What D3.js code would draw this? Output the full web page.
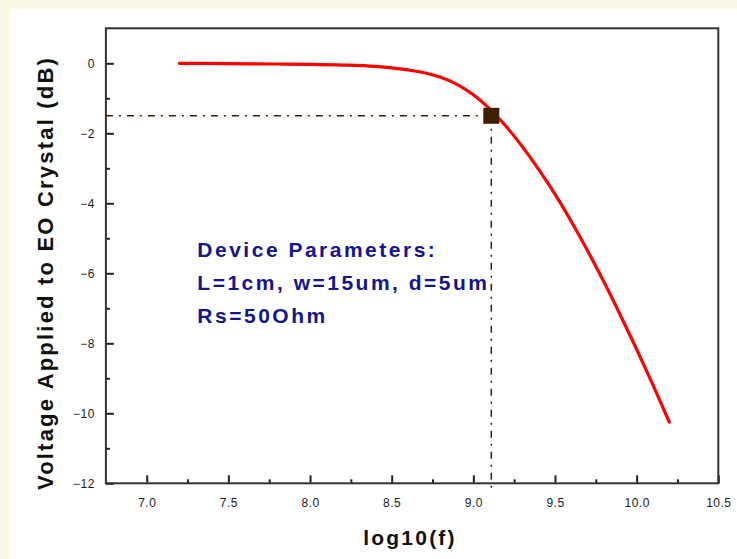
<!DOCTYPE html>
<html lang="en">
<head>
    <meta charset="UTF-8">
    <title>Voltage vs log10(f)</title>
    <style>
        body { margin: 0; background: #fafae6; }
        svg { display: block; }
        .tick text { font-family: Arial, "Liberation Sans", sans-serif; font-size: 12px; fill: #1a1a1a; letter-spacing: 0.5px; }
    </style>
</head>
<body>
    <div class="vis"><svg width="737" height="559"></svg></div>
    <script src="https://cdnjs.cloudflare.com/ajax/libs/d3/7.8.5/d3.min.js"></script>
    <script>
        // response curve
        var logF = [7.2, 7.5, 7.8, 8.0, 8.2, 8.4, 8.5, 8.6, 8.7, 8.8, 8.9, 9.0, 9.1, 9.2, 9.3, 9.4, 9.5, 9.6, 9.7, 9.8, 9.9, 10.0, 10.1, 10.2];
        var voltDb = [0, -0.01, -0.02, -0.03, -0.05, -0.09, -0.13, -0.19, -0.27, -0.4, -0.6, -0.9, -1.3, -1.8, -2.38, -3.03, -3.74, -4.52, -5.36, -6.25, -7.19, -8.17, -9.19, -10.25];

        // -1.5 dB point
        var markX = 9.11;
        var markY = -1.5;

        var xTicks = [7.0, 7.5, 8.0, 8.5, 9.0, 9.5, 10.0, 10.5];
        var xMinor = [7.25, 7.75, 8.25, 8.75, 9.25, 9.75, 10.25];
        var yTicks = [0, -2, -4, -6, -8, -10, -12];
        var yMinor = [-1, -3, -5, -7, -9, -11];

        var notes = ["Device Parameters:", "L=1cm, w=15um, d=5um", "Rs=50Ohm"];

        var svg = d3.select('.vis svg');

        // white panel
        svg.append('rect')
            .attr('x', 11).attr('y', 9)
            .attr('width', 737 - 11).attr('height', 559 - 9)
            .attr('fill', '#ffffff');

        var xScale = d3.scaleLinear().domain([6.75, 10.5]).range([105.9, 718.3]);
        var yScale = d3.scaleLinear().domain([1, -12]).range([28.3, 483.3]);

        var h0 = yScale(-12), w0 = xScale(6.75);

        // axes, ticks pointing inward
        svg.append('g')
            .attr('transform', `translate(0, ${h0})`)
            .call(d3.axisBottom(xScale).tickValues(xTicks).tickSizeInner(-8).tickPadding(15).tickFormat(d3.format('.1f')));
        svg.append('g')
            .attr('transform', `translate(0, ${h0})`)
            .call(d3.axisBottom(xScale).tickValues(xMinor).tickSizeInner(-4).tickFormat(''));

        svg.append('g')
            .attr('transform', `translate(${w0}, 0)`)
            .call(d3.axisLeft(yScale).tickValues(yTicks).tickSizeInner(-8).tickPadding(11).tickFormat(d3.format('d')));
        svg.append('g')
            .attr('transform', `translate(${w0}, 0)`)
            .call(d3.axisLeft(yScale).tickValues(yMinor).tickSizeInner(-4).tickFormat(''));

        svg.selectAll('.domain').remove();
        svg.selectAll('.tick line').attr('stroke', '#222').attr('stroke-width', 2);

        // frame
        svg.append('rect')
            .attr('x', xScale(6.75)).attr('y', yScale(1))
            .attr('width', xScale(10.5) - xScale(6.75))
            .attr('height', yScale(-12) - yScale(1))
            .attr('fill', 'none')
            .attr('stroke', '#333333')
            .attr('stroke-width', 2);

        // guide lines to the marker
        svg.append('line')
            .attr('x1', xScale(6.75)).attr('x2', xScale(markX))
            .attr('y1', yScale(markY)).attr('y2', yScale(markY))
            .attr('stroke', '#3d1f00').attr('stroke-width', 1.5)
            .attr('stroke-dasharray', '7,6,2,6');
        svg.append('line')
            .attr('x1', xScale(markX)).attr('x2', xScale(markX))
            .attr('y1', yScale(markY)).attr('y2', yScale(-12) + 5)
            .attr('stroke', '#3d1f00').attr('stroke-width', 1.5)
            .attr('stroke-dasharray', '7,6,2,6');

        // curve
        var line = d3.line()
            .x((d, i) => xScale(logF[i]))
            .y(d => yScale(d))
            .curve(d3.curveMonotoneX);
        svg.append('path')
            .datum(voltDb)
            .attr('d', line)
            .attr('fill', 'none')
            .attr('stroke', '#ff0000')
            .attr('stroke-width', 3.2)
            .attr('stroke-linecap', 'round');

        // marker
        svg.append('rect')
            .attr('x', xScale(markX) - 8).attr('y', yScale(markY) - 8)
            .attr('width', 16).attr('height', 16)
            .attr('fill', '#3d1f00');

        // annotation
        svg.selectAll('text.note')
            .data(notes)
            .enter()
            .append('text')
            .attr('class', 'note')
            .attr('x', xScale(7.31))
            .attr('y', (d, i) => yScale(-5.53) + i * 33)
            .attr('font-family', 'Arial, "Liberation Sans", sans-serif')
            .attr('font-weight', 'bold')
            .attr('font-size', 21)
            .attr('letter-spacing', 2.5)
            .attr('fill', '#14148c')
            .text(d => d);

        // axis titles
        svg.append('text')
            .attr('x', 410).attr('y', 545)
            .attr('text-anchor', 'middle')
            .attr('font-family', 'Arial, "Liberation Sans", sans-serif')
            .attr('font-weight', 'bold')
            .attr('font-size', 21)
            .attr('letter-spacing', 2.2)
            .attr('fill', '#111')
            .text('log10(f)');

        svg.append('text')
            .attr('transform', 'translate(53, 273) rotate(-90)')
            .attr('text-anchor', 'middle')
            .attr('font-family', 'Arial, "Liberation Sans", sans-serif')
            .attr('font-weight', 'bold')
            .attr('font-size', 22)
            .attr('letter-spacing', 2.2)
            .attr('fill', '#111')
            .text('Voltage Applied to EO Crystal (dB)');
    </script>
</body>
</html>
